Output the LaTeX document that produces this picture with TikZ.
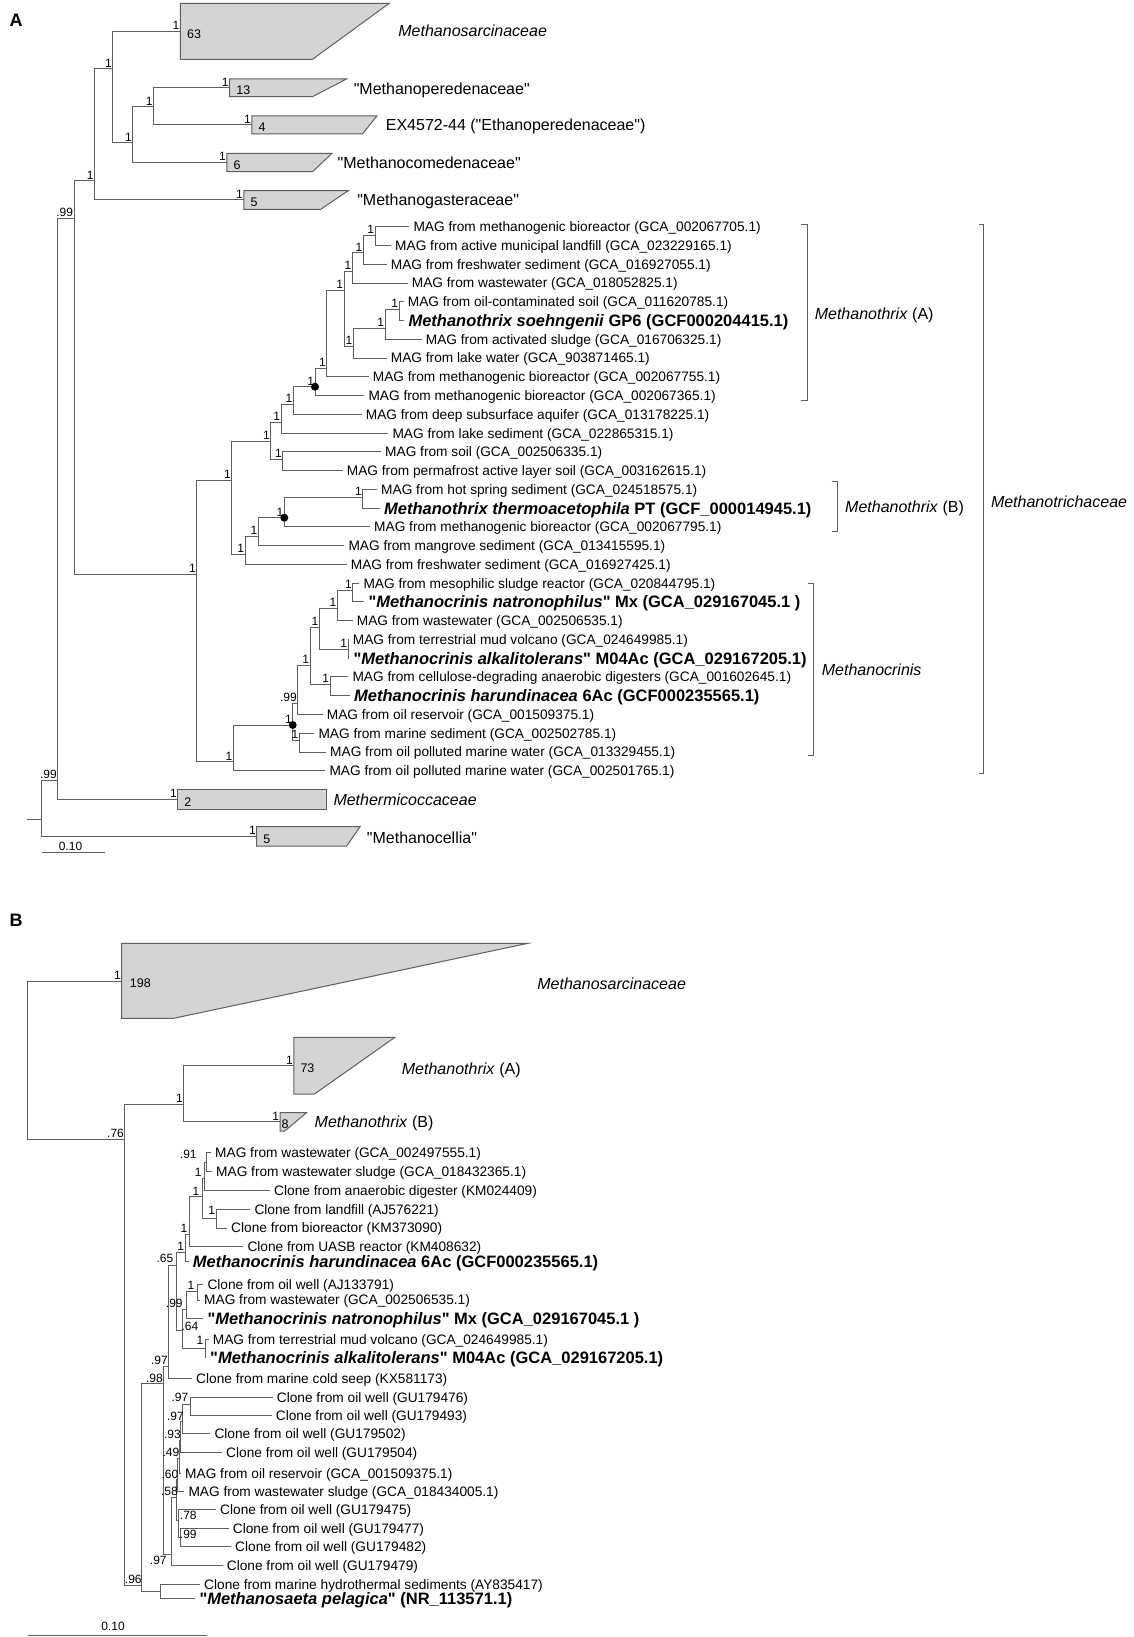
\documentclass[tikz,border=0pt]{standalone}
\usepackage{fontspec}
\setmainfont{Liberation Sans}[Ligatures=TeXOff]
\definecolor{ln}{RGB}{95,95,95}
\definecolor{cf}{RGB}{212,212,212}
\newcommand{\LfA}[4]{\coordinate (#1) at ({#2-4},#3); \node[lf] (t#1) at (#2,#3) {#4};}
\newcommand{\LbA}[4]{\coordinate (#1) at ({#2-4},#3); \node[lfb] (t#1) at (#2,#3) {#4};}
\newcommand{\Nd}[5]{\coordinate (#1) at (#2,#3); \draw[br] (#1) |- (#4); \draw[br] (#1) |- (#5);}
\newcommand{\Sv}[2]{\node[sv] (s#1) at (#1) {#2};}
\newcommand{\Lab}[4]{\node[svc] (#1) at (#2,#3) {#4};}
\begin{document}
\begin{tikzpicture}[x=1pt,y=-1pt,
  br/.style={draw=ln, line width=1pt},
  clade/.style={draw=ln, fill=cf, line width=1pt, line join=miter},
  brk/.style={draw=ln, line width=1pt},
  lf/.style={font=\fontsize{13.7}{14}\selectfont, inner sep=0pt, anchor=base west, yshift=-4.9pt},
  lfb/.style={font=\fontsize{16.5}{17}\selectfont\bfseries, inner sep=0pt, anchor=base west, yshift=-5.9pt},
  cname/.style={font=\fontsize{16}{17}\selectfont, inner sep=0pt, anchor=base west, yshift=-5.7pt},
  sv/.style={font=\fontsize{12}{13}\selectfont, inner sep=0pt, anchor=south east, xshift=-0.8pt, yshift=1.3pt},
  svc/.style={font=\fontsize{12}{13}\selectfont, inner sep=0pt},
  cnum/.style={font=\fontsize{12.5}{13}\selectfont, inner sep=0pt, anchor=west},
  dotn/.style={circle, fill=black, inner sep=0pt, minimum size=8pt},
  panel/.style={font=\fontsize{18}{18}\selectfont\bfseries, inner sep=0pt}]
\useasboundingbox (0,0) rectangle (1134,1637);
\fill[white] (0,0) rectangle (1134,1637);

% ================= PANEL A =================
\node[panel] (pA) at (16,20) {A};

% collapsed clades
\draw[clade] (180.4,3.3) -- (389.3,3.3) -- (312.5,59.3) -- (180.4,59.3) -- cycle;
\draw[clade] (229.6,79) -- (346.4,79) -- (312.5,96.7) -- (229.6,96.7) -- cycle;
\draw[clade] (251.8,116) -- (376.8,116) -- (362.5,134) -- (251.8,134) -- cycle;
\draw[clade] (226.8,153.3) -- (332,153.3) -- (312.5,171.7) -- (226.8,171.7) -- cycle;
\draw[clade] (243.9,190.7) -- (348.2,190.7) -- (320.7,209.3) -- (243.9,209.3) -- cycle;
\draw[clade] (177.7,789.3) -- (326,789.3) -- (326,809.3) -- (177.7,809.3) -- cycle;
\draw[clade] (256.7,826.7) -- (360,826.7) -- (346.7,846) -- (256.7,846) -- cycle;

\coordinate (cMsarc) at (180.4,31.3);
\coordinate (cMper) at (229.6,87.8);
\coordinate (cEX) at (251.8,125);
\coordinate (cMcom) at (226.8,162.5);
\coordinate (cMgas) at (243.9,200);
\coordinate (cMth) at (177.7,799.3);
\coordinate (cMcel) at (256.7,836.4);

\node[cnum] (nMsarc) at (186.9,33.8) {63};
\node[cnum] (nMper) at (236.1,90.3) {13};
\node[cnum] (nEX) at (258.3,127.5) {4};
\node[cnum] (nMcom) at (233.3,165) {6};
\node[cnum] (nMgas) at (250.4,202.5) {5};
\node[cnum] (nMth) at (184.2,801.8) {2};
\node[cnum] (nMcel) at (263.2,838.9) {5};

\node[cname] (lMsarc) at (398.2,30.5) {\textit{Methanosarcinaceae}};
\node[cname] (lMper) at (353.6,88.5) {"Methanoperedenaceae"};
\node[cname] (lEX) at (385.7,125) {EX4572-44 ("Ethanoperedenaceae")};
\node[cname] (lMcom) at (337.5,163.3) {"Methanocomedenaceae"};
\node[cname] (lMgas) at (357.1,200) {"Methanogasteraceae"};
\node[cname] (lMth) at (333.3,800.2) {\textit{Methermicoccaceae}};
\node[cname] (lMcel) at (366.7,837.3) {"Methanocellia"};

% leaves
\LfA{A1}{413.3}{226.7}{MAG from methanogenic bioreactor (GCA\_002067705.1)}
\LfA{A2}{395}{245.5}{MAG from active municipal landfill (GCA\_023229165.1)}
\LfA{A3}{390.7}{264.2}{MAG from freshwater sediment (GCA\_016927055.1)}
\LfA{A4}{411.7}{283.0}{MAG from wastewater (GCA\_018052825.1)}
\LfA{A5}{407.7}{301.7}{MAG from oil-contaminated soil (GCA\_011620785.1)}
\LbA{A6}{408.3}{320.5}{\textit{Methanothrix soehngenii} GP6 (GCF000204415.1)}
\LfA{A7}{425.7}{339.3}{MAG from activated sludge (GCA\_016706325.1)}
\LfA{A8}{390.7}{358.0}{MAG from lake water (GCA\_903871465.1)}
\LfA{A9}{372.7}{376.8}{MAG from methanogenic bioreactor (GCA\_002067755.1)}
\LfA{A10}{368.3}{395.5}{MAG from methanogenic bioreactor (GCA\_002067365.1)}
\LfA{A11}{365.7}{414.3}{MAG from deep subsurface aquifer (GCA\_013178225.1)}
\LfA{A12}{392.3}{433.1}{MAG from lake sediment (GCA\_022865315.1)}
\LfA{A13}{385}{451.8}{MAG from soil (GCA\_002506335.1)}
\LfA{A14}{346.7}{470.6}{MAG from permafrost active layer soil (GCA\_003162615.1)}
\LfA{A15}{381}{489.3}{MAG from hot spring sediment (GCA\_024518575.1)}
\LbA{A16}{384}{508.1}{\textit{Methanothrix thermoacetophila} PT (GCF\_000014945.1)}
\LfA{A17}{374}{526.9}{MAG from methanogenic bioreactor (GCA\_002067795.1)}
\LfA{A18}{348.3}{545.6}{MAG from mangrove sediment (GCA\_013415595.1)}
\LfA{A19}{350.7}{564.4}{MAG from freshwater sediment (GCA\_016927425.1)}
\LfA{A20}{363.3}{583.1}{MAG from mesophilic sludge reactor (GCA\_020844795.1)}
\LbA{A21}{368.3}{601.9}{"\textit{Methanocrinis natronophilus}" Mx (GCA\_029167045.1 )}
\LfA{A22}{356.7}{620.7}{MAG from wastewater (GCA\_002506535.1)}
\LfA{A23}{352.7}{639.4}{MAG from terrestrial mud volcano (GCA\_024649985.1)}
\LbA{A24}{353.3}{658.2}{"\textit{Methanocrinis alkalitolerans}" M04Ac (GCA\_029167205.1)}
\LfA{A25}{352.3}{676.9}{MAG from cellulose-degrading anaerobic digesters (GCA\_001602645.1)}
\LbA{A26}{354}{695.7}{\textit{Methanocrinis harundinacea} 6Ac (GCF000235565.1)}
\LfA{A27}{326.7}{714.5}{MAG from oil reservoir (GCA\_001509375.1)}
\LfA{A28}{318.3}{733.2}{MAG from marine sediment (GCA\_002502785.1)}
\LfA{A29}{330}{752.0}{MAG from oil polluted marine water (GCA\_013329455.1)}
\LfA{A30}{329.3}{770.7}{MAG from oil polluted marine water (GCA\_002501765.1)}

% internal nodes of Methanotrichaceae
\Nd{Xa}{375}{235.5}{A1}{A2}
\Nd{Xb}{363.3}{253}{Xa}{A3}
\Nd{Xc}{352.3}{271}{Xb}{A4}
\Nd{Xd}{399}{309}{A5}{A6}
\Nd{Xe}{385}{328}{Xd}{A7}
\Nd{Xf}{353.3}{346}{Xe}{A8}
\Nd{Xg}{344}{290}{Xc}{Xf}
\Nd{Xh}{326.7}{368}{Xg}{A9}
\Nd{Xi}{315}{386.7}{Xh}{A10}
\Nd{Xj}{293.3}{404}{Xi}{A11}
\Nd{Xk}{281}{422}{Xj}{A12}
\Nd{Xl}{282.7}{459}{A13}{A14}
\Nd{Xm}{270.7}{441}{Xk}{Xl}
\Nd{Xo}{362.7}{497}{A15}{A16}
\Nd{Xp}{284.3}{517.7}{Xo}{A17}
\Nd{Xq}{258.3}{536}{Xp}{A18}
\Nd{Xr}{245}{554}{Xq}{A19}
\Nd{Xn}{231.7}{480}{Xm}{Xr}
\Nd{Xu}{352.7}{590}{A20}{A21}
\Nd{Xv}{337.3}{608}{Xu}{A22}
\Nd{Xw}{348}{649}{A23}{A24}
\Nd{Xx}{319.3}{627}{Xv}{Xw}
\Nd{Xy}{330}{684}{A25}{A26}
\Nd{Xz}{310}{665}{Xx}{Xy}
\Nd{Xzz}{297.7}{703}{Xz}{A27}
\Nd{Xbb}{299.3}{740}{A28}{A29}
\Nd{Xaa}{292.7}{725}{Xzz}{Xbb}
\Nd{Xt}{233.3}{761.7}{Xaa}{A30}
\Nd{Xs}{196.7}{574}{Xn}{Xt}

% backbone
\Nd{N4}{153.6}{106.7}{cMper}{cEX}
\Nd{N3}{132.9}{143}{N4}{cMcom}
\Nd{N1}{112.9}{69}{cMsarc}{N3}
\Nd{N2}{94.5}{181}{N1}{cMgas}
\Nd{U}{74}{218.6}{N2}{Xs}
\Nd{V}{57.7}{780.6}{U}{cMth}
\Nd{R}{41.7}{819}{V}{cMcel}
\coordinate (Rs) at (26.7,819);
\draw[br] (Rs) -- (R);

% support values A
\Sv{cMsarc}{1}\Sv{cMper}{1}\Sv{cEX}{1}\Sv{cMcom}{1}\Sv{cMgas}{1}\Sv{cMth}{1}\Sv{cMcel}{1}
\Sv{N4}{1}\Sv{N3}{1}\Sv{N1}{1}\Sv{N2}{1}\Sv{U}{.99}\Sv{V}{.99}
\Sv{Xa}{1}\Sv{Xb}{1}\Sv{Xc}{1}\Sv{Xd}{1}\Sv{Xe}{1}\Sv{Xf}{1}\Sv{Xg}{1}\Sv{Xh}{1}
\Sv{Xi}{1}\Sv{Xj}{1}\Sv{Xk}{1}\Sv{Xl}{1}\Sv{Xm}{1}\Sv{Xo}{1}\Sv{Xp}{1}\Sv{Xq}{1}
\Sv{Xr}{1}\Sv{Xn}{1}\Sv{Xu}{1}\Sv{Xv}{1}\Sv{Xw}{1}\Sv{Xx}{1}\Sv{Xy}{1}\Sv{Xz}{1}
\Sv{Xzz}{.99}\Sv{Xbb}{1}\Sv{Xaa}{1}\Sv{Xt}{1}\Sv{Xs}{1}

\node[dotn] (dot1) at (Xi) {};
\node[dotn] (dot2) at (Xp) {};
\node[dotn] (dot3) at (Xaa) {};

% brackets
\draw[brk] (801,225) -- (807,225) -- (807,400) -- (801,400);
\draw[brk] (831.7,481.7) -- (837.3,481.7) -- (837.3,531.7) -- (831.7,531.7);
\draw[brk] (808.3,583.3) -- (813.3,583.3) -- (813.3,755) -- (808.3,755);
\draw[brk] (979,225) -- (983.2,225) -- (983.2,773.7) -- (979,773.7);
\node[cname] (lMA) at (814.6,313.5) {\textit{Methanothrix} (A)};
\node[cname] (lMB) at (845,506.7) {\textit{Methanothrix} (B)};
\node[cname] (lMC) at (821.7,670) {\textit{Methanocrinis}};
\node[cname] (lMT) at (990.8,501.7) {\textit{Methanotrichaceae}};

% scale bar A
\coordinate (sbA1) at (41.7,852.3);
\coordinate (sbA2) at (105,852.3);
\draw[br] (sbA1) -- (sbA2);
\node[svc, anchor=base] (sbAt) at (70.5,850.3) {0.10};

% ================= PANEL B =================
\node[panel] (pB) at (16,920) {B};

\draw[clade] (121.7,943.3) -- (528,943.3) -- (173.6,1018.3) -- (121.7,1018.3) -- cycle;
\draw[clade] (293.8,1037.3) -- (394.9,1037.3) -- (314.5,1094) -- (293.8,1094) -- cycle;
\draw[clade] (280,1112.5) -- (306.7,1112.5) -- (284.7,1131) -- (280,1131) -- cycle;
\coordinate (cMsB) at (121.7,981);
\coordinate (cMAB) at (293.8,1065.7);
\coordinate (cMBB) at (280,1121.7);
\node[cnum] (nMsB) at (129.7,983.3) {198};
\node[cnum] (nMAB) at (300.3,1068.2) {73};
\node[cnum] (nMBB) at (281.3,1124.2) {8};
\node[cname] (lMsB) at (537.2,983.3) {\textit{Methanosarcinaceae}};
\node[cname] (lMAB) at (401.7,1068.5) {\textit{Methanothrix} (A)};
\node[cname] (lMBB) at (314.5,1121.7) {\textit{Methanothrix} (B)};

\LfA{B1}{215}{1152.8}{MAG from wastewater (GCA\_002497555.1)}
\LfA{B2}{216}{1171.6}{MAG from wastewater sludge (GCA\_018432365.1)}
\LfA{B3}{274}{1190.4}{Clone from anaerobic digester (KM024409)}
\LfA{B4}{254.3}{1209.2}{Clone from landfill (AJ576221)}
\LfA{B5}{231}{1228}{Clone from bioreactor (KM373090)}
\LfA{B6}{247.3}{1246.8}{Clone from UASB reactor (KM408632)}
\LbA{B7}{192.7}{1261.4}{\textit{Methanocrinis harundinacea} 6Ac (GCF000235565.1)}
\LfA{B8}{207.3}{1284.4}{Clone from oil well (AJ133791)}
\LfA{B9}{204}{1300}{MAG from wastewater (GCA\_002506535.1)}
\LbA{B10}{207.3}{1318.8}{"\textit{Methanocrinis natronophilus}" Mx (GCA\_029167045.1 )}
\LfA{B11}{212.7}{1339.7}{MAG from terrestrial mud volcano (GCA\_024649985.1)}
\LbA{B12}{210}{1357.5}{"\textit{Methanocrinis alkalitolerans}" M04Ac (GCA\_029167205.1)}
\LfA{B13}{196}{1378.3}{Clone from marine cold seep (KX581173)}
\LfA{B14}{276.7}{1397.1}{Clone from oil well (GU179476)}
\LfA{B15}{275.7}{1415.9}{Clone from oil well (GU179493)}
\LfA{B16}{214.3}{1433.7}{Clone from oil well (GU179502)}
\LfA{B17}{226}{1452.5}{Clone from oil well (GU179504)}
\LfA{B18}{185}{1473.4}{MAG from oil reservoir (GCA\_001509375.1)}
\LfA{B19}{188.3}{1491.1}{MAG from wastewater sludge (GCA\_018434005.1)}
\LfA{B20}{220}{1509.9}{Clone from oil well (GU179475)}
\LfA{B21}{232.7}{1528.7}{Clone from oil well (GU179477)}
\LfA{B22}{235}{1546.5}{Clone from oil well (GU179482)}
\LfA{B23}{226.7}{1565.3}{Clone from oil well (GU179479)}
\LfA{B24}{204}{1584.1}{Clone from marine hydrothermal sediments (AY835417)}
\LbA{B25}{199.3}{1598.7}{"\textit{Methanosaeta pelagica}" (NR\_113571.1)}

\Nd{Yn1}{206}{1162}{B1}{B2}
\Nd{Yn2}{204}{1178}{Yn1}{B3}
\Nd{Yn4}{216.7}{1218.6}{B4}{B5}
\Nd{Yn3}{202.7}{1196}{Yn2}{Yn4}
\Nd{Yn5}{189}{1234}{Yn3}{B6}
\Nd{Yn6}{185}{1252}{Yn5}{B7}
\Nd{Yc1}{197.3}{1291}{B8}{B9}
\Nd{Yc2}{186.7}{1309}{Yc1}{B10}
\Nd{Yc4}{205}{1348}{B11}{B12}
\Nd{Yc3}{182.7}{1330}{Yc2}{Yc4}
\Nd{Y65}{176.7}{1265}{Yn6}{Yc3}
\Nd{Yd1}{168.3}{1366}{Y65}{B13}
\Nd{Yp1}{190.7}{1404}{B14}{B15}
\Nd{Yp2}{182.7}{1421}{Yp1}{B16}
\Nd{Yp3}{180.5}{1440}{Yp2}{B17}
\Nd{Yp4}{179}{1458}{Yp3}{B18}
\Nd{Yp5}{177.5}{1479}{Yp4}{B19}
\Nd{Yq1}{180}{1537.6}{B21}{B22}
\Nd{Yq2}{178.3}{1520}{B20}{Yq1}
\Nd{Yp6}{176}{1497}{Yp5}{Yq2}
\Nd{Y97}{171.7}{1554}{Yp6}{B23}
\Nd{Y98}{163.3}{1383}{Yd1}{Y97}
\Nd{Ye}{160}{1591}{B24}{B25}
\Nd{Y96}{141.7}{1585}{Y98}{Ye}
\Nd{YAB}{183.7}{1104}{cMAB}{cMBB}
\Nd{Y76}{124.9}{1139.3}{YAB}{Y96}
\Nd{RB}{27.5}{1060}{cMsB}{Y76}

\Sv{cMsB}{1}\Sv{cMAB}{1}\Sv{cMBB}{1}\Sv{YAB}{1}\Sv{Y76}{.76}
\Lab{l91}{188.3}{1154}{.91}
\Lab{ln2}{198.3}{1172.3}{1}
\Lab{ln3}{196}{1191}{1}
\Lab{ln4}{211.7}{1210}{1}
\Lab{ln5}{184}{1228.3}{1}
\Lab{ln6}{180.7}{1246.7}{1}
\Lab{l65}{165}{1258.3}{.65}
\Lab{lc1}{191}{1285}{1}
\Lab{lc2}{174.3}{1303.3}{.99}
\Lab{lc3}{190}{1326.7}{.64}
\Lab{lc4}{200}{1340.7}{1}
\Lab{ld1}{159.5}{1360}{.97}
\Lab{l98}{154.5}{1378.3}{.98}
\Lab{lp1}{180}{1397.7}{.97}
\Lab{lp2}{175.5}{1416}{.97}
\Lab{lp3}{172.5}{1434}{.93}
\Lab{lp4}{171}{1452.3}{.49}
\Lab{lp5}{170}{1474}{.60}
\Lab{lp6}{169.5}{1491.7}{.58}
\Lab{lq2}{188.3}{1515.7}{.78}
\Lab{lq1}{188.3}{1534}{.99}
\Lab{l97}{158.3}{1560}{.97}
\Lab{l96}{133.3}{1579.3}{.96}

% scale bar B
\coordinate (sbB1) at (27.5,1635);
\coordinate (sbB2) at (206.7,1635);
\draw[br] (sbB1) -- (sbB2);
\node[svc, anchor=base] (sbBt) at (113,1630.5) {0.10};
\end{tikzpicture}
\end{document}
